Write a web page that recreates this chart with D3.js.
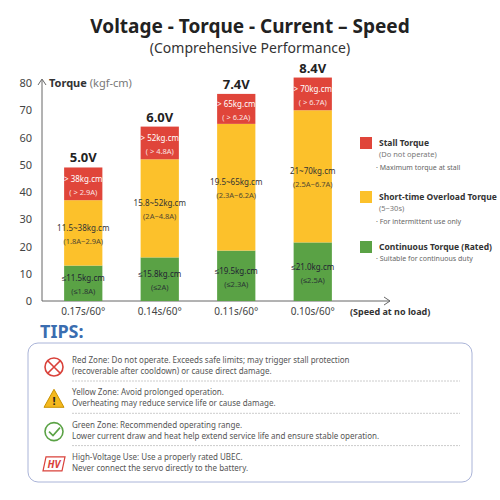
<!DOCTYPE html><html><head><meta charset="utf-8"><script src="https://cdn.jsdelivr.net/npm/d3@7"></script>
<style>body{margin:0;background:#fff}svg{font-family:"Noto Sans",sans-serif}</style></head><body><svg id="c" width="500" height="500"></svg>
<script>
const categories=["0.17s/60°","0.14s/60°","0.11s/60°","0.10s/60°"];
const voltages=["5.0V","6.0V","7.4V","8.4V"];
const green=[13,16,18.5,21.5];
const yellowTop=[37,52,65,70];
const total=[49,64,76,82];
const greenL=[["≤11.5kg.cm","(≤1.8A)"],["≤15.8kg.cm","(≤2A)"],["≤19.5kg.cm","(≤2.3A)"],["≤21.0kg.cm","(≤2.5A)"]];
const yellowL=[["11.5~38kg.cm","(1.8A~2.9A)"],["15.8~52kg.cm","(2A~4.8A)"],["19.5~65kg.cm","(2.3A~6.2A)"],["21~70kg.cm","(2.5A~6.7A)"]];
const redL=[["> 38kg.cm","( > 2.9A)"],["> 52kg.cm","( > 4.8A)"],["> 65kg.cm","( > 6.2A)"],["> 70kg.cm","( > 6.7A)"]];
const yTicks=[0,10,20,30,40,50,60,70,80];
const svg=d3.select("#c");
const C={r:"#e0453a",y:"#fcc12b",g:"#5aa245"};
svg.append("text").attr("x",250).attr("y",33).attr("text-anchor","middle").attr("font-size",19).attr("font-weight","bold").attr("fill","#222").text("Voltage - Torque - Current – Speed");
svg.append("text").attr("x",250).attr("y",53).attr("text-anchor","middle").attr("font-size",14).attr("fill","#333").text("(Comprehensive Performance)");
const y=d3.scaleLinear().domain([0,80]).range([301,83]);
const x=d3.scaleBand().domain(categories).range([45,351]).paddingInner(0.5).paddingOuter(0.25);
const ax=svg.append("g").attr("transform","translate(42,0)").call(d3.axisLeft(y).tickValues(yTicks).tickSize(0).tickPadding(10));
ax.select(".domain").remove();ax.selectAll("text").attr("font-size",11).attr("fill","#444").attr("font-family","Noto Sans");
svg.append("line").attr("x1",42).attr("x2",42).attr("y1",301).attr("y2",80).attr("stroke","#666");
svg.append("path").attr("d","M38,85L42,79L46,85").attr("fill","none").attr("stroke","#666");
svg.append("line").attr("x1",42).attr("x2",390).attr("y1",301).attr("y2",301).attr("stroke","#666");
svg.append("path").attr("d","M384,297L390,301L384,305").attr("fill","none").attr("stroke","#666");
svg.append("text").attr("x",49).attr("y",87).attr("font-size",11).attr("fill","#333").html('<tspan font-weight="bold">Torque</tspan> <tspan fill="#777">(kgf-cm)</tspan>');
const g=svg.append("g");
categories.forEach((c,i)=>{
 const bx=x(c),bw=x.bandwidth(),cx=bx+bw/2;
 const segs=[[0,green[i],C.g,greenL[i],"#223"],[green[i],yellowTop[i],C.y,yellowL[i],"#333"],[yellowTop[i],total[i],C.r,redL[i],"#fff"]];
 segs.forEach(([a,b,col,l,tc])=>{
  g.append("rect").attr("x",bx).attr("width",bw).attr("y",y(b)).attr("height",y(a)-y(b)).attr("fill",col);
  const m=(y(a)+y(b))/2;
  g.append("text").attr("x",cx).attr("y",m-2).attr("text-anchor","middle").attr("font-size",8).attr("fill",tc).text(l[0]);
  g.append("text").attr("x",cx).attr("y",m+11).attr("text-anchor","middle").attr("font-size",7.5).attr("fill",tc).attr("opacity",0.85).text(l[1]);
 });
 g.append("text").attr("x",cx).attr("y",y(total[i])-5).attr("text-anchor","middle").attr("font-size",13).attr("font-weight","bold").attr("fill","#222").text(voltages[i]);
 g.append("text").attr("x",cx).attr("y",315).attr("text-anchor","middle").attr("font-size",10).attr("fill","#444").text(c);
});
svg.append("text").attr("x",350).attr("y",315).attr("font-size",9).attr("font-weight","bold").attr("fill","#333").text("(Speed at no load)");
const leg=[[C.r,"Stall Torque","(Do not operate)","· Maximum torque at stall",143],[C.y,"Short-time Overload Torque","(5~30s)","· For intermittent use only",197],[C.g,"Continuous Torque (Rated)",null,"· Suitable for continuous duty",247]];
leg.forEach(([col,t,s,n,yy])=>{
 svg.append("rect").attr("x",360).attr("y",yy-6).attr("width",12).attr("height",12).attr("fill",col);
 svg.append("text").attr("x",379).attr("y",yy+3).attr("font-size",8.5).attr("font-weight","bold").attr("fill","#333").text(t);
 let ny=yy+14;
 if(s){svg.append("text").attr("x",379).attr("y",yy+14).attr("font-size",7.5).attr("fill","#777").text(s);ny=yy+27;}
 svg.append("text").attr("x",376).attr("y",ny).attr("font-size",7).attr("fill","#666").text(n);
});
svg.append("text").attr("x",40).attr("y",338).attr("font-size",18).attr("font-weight","bold").attr("fill","#3a6db0").text("TIPS:");
svg.append("rect").attr("x",28).attr("y",343).attr("width",444).attr("height",139).attr("rx",10).attr("fill","#fff").attr("stroke","#aab4d8");
const tips=[["Red Zone: Do not operate. Exceeds safe limits; may trigger stall protection"," (recoverable after cooldown) or cause direct damage."],["Yellow Zone: Avoid prolonged operation.","Overheating may reduce service life or cause damage."],["Green Zone: Recommended operating range.","Lower current draw and heat help extend service life and ensure stable operation."],["High-Voltage Use: Use a properly rated UBEC.","Never connect the servo directly to the battery."]];
tips.forEach((t,i)=>{
 const ty=363+i*32.3;
 svg.append("text").attr("x",72).attr("y",ty).attr("font-size",8).attr("fill","#555").text(t[0]);
 svg.append("text").attr("x",72).attr("y",ty+11).attr("font-size",8).attr("fill","#555").text(t[1]);
 if(i<3)svg.append("line").attr("x1",72).attr("x2",460).attr("y1",ty+18).attr("y2",ty+18).attr("stroke","#ccc").attr("stroke-dasharray","2,1");
 const cy=ty+4;
 if(i==0){svg.append("circle").attr("cx",54).attr("cy",cy).attr("r",9).attr("fill","none").attr("stroke","#d9413a").attr("stroke-width",1.6);
  svg.append("path").attr("d",`M48,${cy-6}L60,${cy+6}M60,${cy-6}L48,${cy+6}`).attr("stroke","#d9413a").attr("stroke-width",1.6);}
 if(i==1){svg.append("path").attr("d",`M54,${cy-10}L64,${cy+8}L44,${cy+8}Z`).attr("fill","#f4b81f").attr("stroke","#c99200");
  svg.append("text").attr("x",54).attr("y",cy+6).attr("text-anchor","middle").attr("font-size",11).attr("font-weight","bold").attr("fill","#222").text("!");}
 if(i==2){svg.append("circle").attr("cx",54).attr("cy",cy).attr("r",9).attr("fill","none").attr("stroke","#5aa245").attr("stroke-width",1.6);
  svg.append("path").attr("d",`M49,${cy}L53,${cy+4}L60,${cy-4}`).attr("fill","none").attr("stroke","#5aa245").attr("stroke-width",1.6);}
 if(i==3){svg.append("path").attr("d",`M46,${cy-7}L65,${cy-7}L62,${cy+7}L43,${cy+7}Z`).attr("fill","none").attr("stroke","#d9413a").attr("stroke-width",1.2);
  svg.append("text").attr("x",54).attr("y",cy+4).attr("text-anchor","middle").attr("font-size",10).attr("font-style","italic").attr("font-weight","bold").attr("fill","#d9413a").text("HV");}
});
</script></body></html>
